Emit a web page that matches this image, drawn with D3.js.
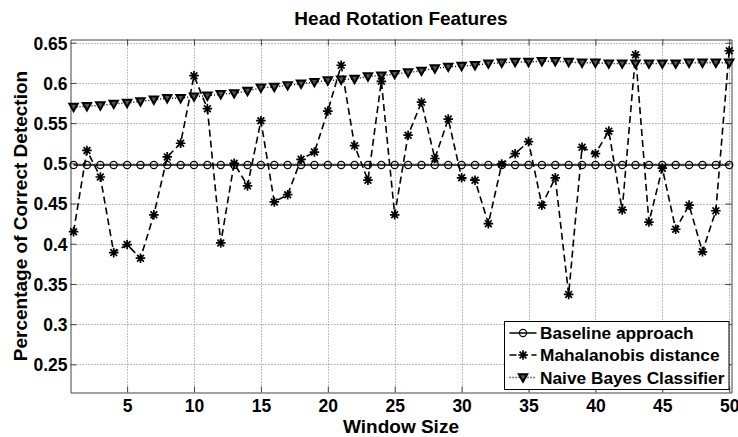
<!DOCTYPE html>
<html>
<head>
<meta charset="utf-8">
<script src="https://cdn.jsdelivr.net/npm/d3@7"></script>
<style>
  html, body { margin: 0; padding: 0; background: #fff; }
  svg { display: block; }
  text { font-family: "Liberation Sans", Arial, Helvetica, sans-serif; font-weight: bold; fill: #000; }
</style>
</head>
<body>
<svg id="chart" width="738" height="437"></svg>
<script>
// Window sizes on the x axis
const windowSizes = [1, 2, 3, 4, 5, 6, 7, 8, 9, 10, 11, 12, 13, 14, 15, 16, 17, 18, 19, 20,
  21, 22, 23, 24, 25, 26, 27, 28, 29, 30, 31, 32, 33, 34, 35, 36, 37, 38, 39, 40,
  41, 42, 43, 44, 45, 46, 47, 48, 49, 50];

// Percentage of correct detection for each method
const baseline = [0.498, 0.498, 0.498, 0.498, 0.498, 0.498, 0.498, 0.498, 0.498, 0.498,
  0.498, 0.498, 0.498, 0.498, 0.498, 0.498, 0.498, 0.498, 0.498, 0.498,
  0.498, 0.498, 0.498, 0.498, 0.498, 0.498, 0.498, 0.498, 0.498, 0.498,
  0.498, 0.498, 0.498, 0.498, 0.498, 0.498, 0.498, 0.498, 0.498, 0.498,
  0.498, 0.498, 0.498, 0.498, 0.498, 0.498, 0.498, 0.498, 0.498, 0.498];

const mahalanobis = [0.415, 0.516, 0.483, 0.389, 0.399, 0.382, 0.436, 0.508, 0.525, 0.609,
  0.568, 0.401, 0.500, 0.472, 0.553, 0.452, 0.461, 0.505, 0.514, 0.565,
  0.622, 0.522, 0.479, 0.602, 0.436, 0.535, 0.576, 0.506, 0.555, 0.482,
  0.479, 0.425, 0.499, 0.512, 0.527, 0.448, 0.482, 0.337, 0.520, 0.512,
  0.540, 0.442, 0.635, 0.427, 0.494, 0.418, 0.448, 0.390, 0.441, 0.640];

const naiveBayes = [0.570, 0.571, 0.572, 0.574, 0.575, 0.577, 0.579, 0.581, 0.581, 0.583,
  0.584, 0.586, 0.587, 0.590, 0.594, 0.595, 0.597, 0.599, 0.601, 0.603,
  0.604, 0.605, 0.608, 0.609, 0.611, 0.613, 0.615, 0.618, 0.620, 0.621,
  0.622, 0.624, 0.625, 0.626, 0.626, 0.627, 0.627, 0.626, 0.625, 0.625,
  0.624, 0.624, 0.624, 0.624, 0.624, 0.624, 0.625, 0.625, 0.625, 0.625];

const xTicks = [5, 10, 15, 20, 25, 30, 35, 40, 45, 50];
const yTicks = [0.25, 0.3, 0.35, 0.4, 0.45, 0.5, 0.55, 0.6, 0.65];
const yTickLabels = ["0.25", "0.3", "0.35", "0.4", "0.45", "0.5", "0.55", "0.6", "0.65"];

const seriesNames = ["Baseline approach", "Mahalanobis distance", "Naive Bayes Classifier"];
const titleText = "Head Rotation Features";
const xTitle = "Window Size";
const yTitle = "Percentage of Correct Detection";

const svg = d3.select("#chart");
const plotL = 70.5, plotR = 731.5, plotT = 39.5, plotB = 392.5;

const x = d3.scaleLinear().domain([0.77, 50.17]).range([plotL, plotR]);
const y = d3.scaleLinear().domain([0.215, 0.654]).range([plotB, plotT]);

// Dotted grid
const grid = svg.append("g");
grid.selectAll("line.gx").data(xTicks).join("line")
  .attr("x1", d => Math.round(x(d)) + 0.5).attr("x2", d => Math.round(x(d)) + 0.5)
  .attr("y1", plotT).attr("y2", plotB)
  .attr("stroke", "#808080").attr("stroke-width", 1).attr("stroke-dasharray", "1,2");
grid.selectAll("line.gy").data(yTicks).join("line")
  .attr("y1", d => Math.round(y(d)) + 0.5).attr("y2", d => Math.round(y(d)) + 0.5)
  .attr("x1", plotL).attr("x2", plotR)
  .attr("stroke", "#808080").attr("stroke-width", 1).attr("stroke-dasharray", "1,2");

// Axes with inward ticks on all four sides
const axisColor = "#444";
const fmtY = d => yTickLabels[yTicks.indexOf(d)];
const axB = svg.append("g").attr("transform", `translate(0,${plotB})`)
  .call(d3.axisBottom(x).tickValues(xTicks).tickSizeInner(-6).tickSizeOuter(0).tickPadding(7));
const axT = svg.append("g").attr("transform", `translate(0,${plotT})`)
  .call(d3.axisTop(x).tickValues(xTicks).tickSizeInner(-6).tickSizeOuter(0).tickFormat(""));
const axL = svg.append("g").attr("transform", `translate(${plotL},0)`)
  .call(d3.axisLeft(y).tickValues(yTicks).tickSizeInner(-6).tickSizeOuter(0).tickPadding(3).tickFormat(fmtY));
const axR = svg.append("g").attr("transform", `translate(${plotR},0)`)
  .call(d3.axisRight(y).tickValues(yTicks).tickSizeInner(-6).tickSizeOuter(0).tickFormat(""));
[axB, axT, axL, axR].forEach(g => {
  g.select(".domain").attr("stroke", axisColor).attr("stroke-width", 1);
  g.selectAll(".tick line").attr("stroke", axisColor);
  g.selectAll("text").attr("font-size", 17.5).attr("font-family", null).attr("fill", "#000");
});
axL.selectAll("text").attr("dy", "0.36em");

// Lines
const lineGen = vals => d3.line().x((d, i) => x(windowSizes[i])).y(d => y(d))(vals);

svg.append("path").attr("d", lineGen(baseline))
  .attr("fill", "none").attr("stroke", "#000").attr("stroke-width", 1.6);
svg.append("path").attr("d", lineGen(mahalanobis))
  .attr("fill", "none").attr("stroke", "#000").attr("stroke-width", 1.6)
  .attr("stroke-dasharray", "7,4");
svg.append("path").attr("d", lineGen(naiveBayes))
  .attr("fill", "none").attr("stroke", "#000").attr("stroke-width", 1.4)
  .attr("stroke-dasharray", "1,2");

// Marker shapes
const starPath = r => {
  const d = r * Math.SQRT1_2;
  return `M${-r},0L${r},0M0,${-r}L0,${r}M${-d},${-d}L${d},${d}M${-d},${d}L${d},${-d}`;
};
const triPath = "M-4.2,-3.2L4.2,-3.2L0,4.2Z";

function circleMarks(sel) {
  sel.append("circle").attr("r", 3.6).attr("fill", "none")
    .attr("stroke", "#000").attr("stroke-width", 1.2);
}
function starMarks(sel) {
  sel.append("path").attr("d", starPath(4.8)).attr("fill", "none")
    .attr("stroke", "#000").attr("stroke-width", 1.7);
}
function triMarks(sel) {
  sel.append("path").attr("d", triPath).attr("fill", "#555")
    .attr("stroke", "#000").attr("stroke-width", 2).attr("stroke-linejoin", "miter");
}

svg.append("g").selectAll("g").data(baseline).join("g")
  .attr("transform", (d, i) => `translate(${x(windowSizes[i])},${y(d)})`).call(circleMarks);
svg.append("g").selectAll("g").data(naiveBayes).join("g")
  .attr("transform", (d, i) => `translate(${x(windowSizes[i])},${y(d)})`).call(triMarks);
svg.append("g").selectAll("g").data(mahalanobis).join("g")
  .attr("transform", (d, i) => `translate(${x(windowSizes[i])},${y(d)})`).call(starMarks);

// Title and axis titles
svg.append("text").attr("x", (plotL + plotR) / 2).attr("y", 25)
  .attr("text-anchor", "middle").attr("font-size", 19).text(titleText);
svg.append("text").attr("x", (plotL + plotR) / 2).attr("y", 433)
  .attr("text-anchor", "middle").attr("font-size", 19).text(xTitle);
svg.append("text").attr("transform", `translate(27,${(plotT + plotB) / 2}) rotate(-90)`)
  .attr("text-anchor", "middle").attr("font-size", 19).text(yTitle);

// Legend
const lg = svg.append("g");
lg.append("rect").attr("x", 504.5).attr("y", 321.5).attr("width", 224.5).attr("height", 68)
  .attr("fill", "#fff").attr("stroke", "#000").attr("stroke-width", 1);
const rowsY = [333, 355, 377.5];
const dashes = [null, "7,4", "1,2"];
const markFns = [circleMarks, starMarks, triMarks];
seriesNames.forEach((name, i) => {
  lg.append("line").attr("x1", 509.5).attr("x2", 536.5).attr("y1", rowsY[i]).attr("y2", rowsY[i])
    .attr("stroke", "#000").attr("stroke-width", 1.5).attr("stroke-dasharray", dashes[i]);
  lg.append("g").attr("transform", `translate(523,${rowsY[i]})`).call(markFns[i]);
  lg.append("text").attr("x", 540).attr("y", rowsY[i]).attr("dy", "0.36em")
    .attr("font-size", 17.3).text(name);
});
</script>
</body>
</html>
